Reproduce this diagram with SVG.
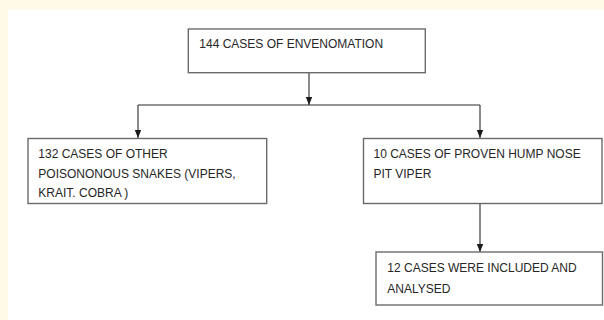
<svg xmlns="http://www.w3.org/2000/svg" width="604" height="320" viewBox="0 0 604 320">
  <style>
    .box { fill: #ffffff; stroke: #6b6b6b; stroke-width: 1.4; }
    .lbl { font-family: "Liberation Sans", Arial, sans-serif; font-size: 12px; fill: #262626; }
    .conn { fill: none; stroke: #2a2a2a; stroke-width: 1.1; }
  </style>
  <defs>
    <marker id="arrow" viewBox="0 0 8 8" refX="8" refY="4" markerWidth="8" markerHeight="8" markerUnits="userSpaceOnUse" orient="auto">
      <path d="M0,0.8 L8,4 L0,7.2 Z" fill="#1a1a1a"/>
    </marker>
  </defs>
  <rect x="0" y="0" width="604" height="320" fill="#fffae6"/>
  <rect x="8" y="9.5" width="596" height="310.5" fill="#ffffff"/>

  <g id="connectors">
    <line class="conn" x1="309" y1="73" x2="309" y2="105" marker-end="url(#arrow)"/>
    <polyline class="conn" points="138,105 480,105"/>
    <line class="conn" x1="138" y1="105" x2="138" y2="138" marker-end="url(#arrow)"/>
    <line class="conn" x1="480" y1="105" x2="480" y2="138" marker-end="url(#arrow)"/>
    <line class="conn" x1="480" y1="203.5" x2="480" y2="252" marker-end="url(#arrow)"/>
  </g>

  <g id="node-envenomation">
    <rect class="box" x="188.3" y="29" width="237" height="43.7"/>
    <text class="lbl" x="199.3" y="47.5">144 CASES OF ENVENOMATION</text>
  </g>

  <g id="node-other-snakes">
    <rect class="box" x="28" y="138.5" width="238.7" height="65"/>
    <text class="lbl" x="38.3" y="157.5">132 CASES OF OTHER</text>
    <text class="lbl" x="38.3" y="177.5">POISONONOUS SNAKES (VIPERS,</text>
    <text class="lbl" x="38.3" y="197">KRAIT. COBRA )</text>
  </g>

  <g id="node-hump-nose">
    <rect class="box" x="363.5" y="138.5" width="238.5" height="65"/>
    <text class="lbl" x="373.5" y="157.8">10 CASES OF PROVEN HUMP NOSE</text>
    <text class="lbl" x="373.5" y="178">PIT VIPER</text>
  </g>

  <g id="node-included">
    <rect class="box" x="376" y="252" width="226.5" height="53"/>
    <text class="lbl" x="387.3" y="271.5">12 CASES WERE INCLUDED AND</text>
    <text class="lbl" x="387.3" y="292.5">ANALYSED</text>
  </g>
</svg>
